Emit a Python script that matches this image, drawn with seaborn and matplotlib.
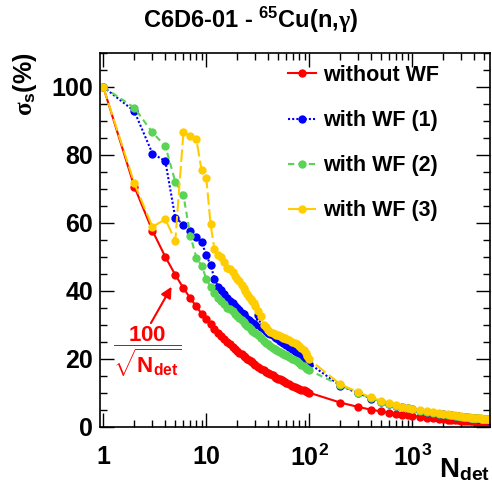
import matplotlib
matplotlib.use("Agg")
import matplotlib.pyplot as plt
import matplotlib.ticker as mticker
import seaborn as sns
import pandas as pd

# number of detectors (x) -- low part every point, high part sparse
n_lo = [1, 2, 3, 4, 5, 6, 7, 8, 9, 10, 11, 12, 13, 14, 15, 16, 17, 18, 19, 20,
        21, 22, 23, 24, 25, 26, 27, 28, 29, 30, 32, 34, 36, 38, 40, 42, 44, 46, 48, 50,
        52, 54, 56, 58, 60, 64, 68, 72, 76, 80, 84, 88, 92, 96, 100]
n_hi = [200, 300, 400, 500, 600, 700, 800, 900, 1000, 1200, 1400, 1600, 1800, 2000,
        2200, 2400, 2600, 2800, 3000, 3200, 3400, 3600, 3800, 4000, 4200, 4400, 4600,
        4800, 5000, 5200, 5400, 5600]

sig_nowf = [100, 70.7, 57.7, 50.0, 44.7, 40.8, 37.8, 35.4, 33.3, 31.6, 30.2, 28.9, 27.7, 26.7, 25.8,
            25.0, 24.3, 23.6, 22.9, 22.4, 21.8, 21.3, 20.9, 20.4, 20.0, 19.6, 19.2, 18.9, 18.6, 18.3,
            17.7, 17.1, 16.7, 16.2, 15.8, 15.4, 15.1, 14.7, 14.4, 14.1, 13.9, 13.6, 13.4, 13.1, 12.9,
            12.5, 12.1, 11.8, 11.5, 11.2, 10.9, 10.7, 10.4, 10.2, 10.0,
            7.1, 5.8, 5.0, 4.5, 4.1, 3.8, 3.5, 3.3, 3.2, 2.9, 2.7, 2.5, 2.4, 2.2, 2.1, 2.0, 2.0,
            1.9, 1.8, 1.8, 1.7, 1.7, 1.6, 1.6, 1.5, 1.5, 1.5, 1.4, 1.4, 1.4, 1.4, 1.3]
sig_wf1 = [100, 92.9, 80.4, 78.2, 61.5, 59.5, 57.6, 55.7, 54.4, 50.5, 47.6, 43.6, 41.2, 40.2, 39.2,
           37.8, 37.0, 36.3, 35.6, 34.9, 34.3, 33.6, 33.1, 32.4, 31.8, 31.3, 30.8, 30.4, 30.1, 29.9,
           33.0, 29.2, 28.7, 28.1, 27.7, 27.3, 26.9, 26.5, 26.1, 25.7, 25.3, 24.9, 24.6, 24.3, 24.0,
           23.4, 22.9, 22.4, 22.0, 21.4, 20.9, 20.4, 19.8, 19.2, 18.6,
           12.1, 9.8, 8.3, 7.3, 6.6, 6.1, 5.7, 5.4, 5.1, 4.6, 4.3, 4.0, 3.8, 3.6, 3.4, 3.3, 3.2,
           3.1, 3.0, 2.9, 2.8, 2.7, 2.6, 2.55, 2.5, 2.4, 2.35, 2.3, 2.25, 2.2, 2.15, 2.1]
sig_wf2 = [100, 93.9, 86.6, 82.6, 72.1, 68.1, 56.2, 49.8, 47.4, 43.6, 41.2, 39.5, 38.0, 37.0, 36.0,
           35.0, 34.5, 34.0, 33.3, 32.7, 32.0, 31.3, 30.8, 30.2, 29.7, 29.2, 28.7, 28.3, 27.9, 27.6,
           27.0, 26.2, 25.3, 24.6, 24.2, 23.8, 23.3, 22.9, 22.6, 22.3, 22.0, 21.7, 21.4, 21.2, 21.0,
           20.5, 20.0, 19.7, 19.4, 18.8, 18.3, 17.8, 17.4, 17.0, 16.6,
           12.2, 9.9, 8.4, 7.4, 6.7, 6.2, 5.8, 5.4, 5.1, 4.7, 4.35, 4.05, 3.85, 3.65, 3.45, 3.3, 3.2,
           3.1, 3.0, 2.9, 2.8, 2.7, 2.65, 2.6, 2.5, 2.45, 2.4, 2.35, 2.3, 2.25, 2.2, 2.15]
sig_wf3 = [100, 71.7, 58.8, 61.1, 54.7, 86.8, 85.5, 84.6, 75.5, 73.2, 59.6, 52.2, 50.5, 50.0, 48.5,
           46.7, 46.3, 45.6, 44.3, 43.6, 43.0, 41.8, 40.7, 39.8, 39.0, 38.3, 37.6, 37.0, 36.3, 35.6,
           34.0, 32.5, 29.8, 29.3, 28.5, 28.0, 27.7, 27.4, 27.1, 26.9, 26.6, 26.4, 26.2, 26.0, 25.8,
           25.5, 25.0, 24.6, 24.2, 23.7, 23.2, 22.6, 21.8, 20.8, 19.8,
           12.5, 10.1, 8.6, 7.6, 6.9, 6.4, 5.9, 5.6, 5.3, 4.8, 4.5, 4.2, 3.9, 3.7, 3.6, 3.4, 3.3,
           3.2, 3.1, 3.0, 2.9, 2.8, 2.7, 2.65, 2.6, 2.5, 2.45, 2.4, 2.35, 2.3, 2.25, 2.2]

labels = ["without WF", "with WF (1)", "with WF (2)", "with WF (3)"]
colors = ["#ff0000", "#0000ff", "#59d454", "#ffcc00"]
styles = ["-", (0, (1, 1)), (0, (3, 2)), (0, (6, 2))]
xtick_vals = [1, 10, 100, 1000]
xtick_labels = ["1", "10", r"$\mathrm{10^{2}}$", r"$\mathrm{10^{3}}$"]
ytick_vals = [0, 20, 40, 60, 80, 100]

plt.rcParams["font.family"] = ["Liberation Sans", "DejaVu Sans"]
plt.rcParams["font.weight"] = "bold"
plt.rcParams["mathtext.fontset"] = "custom"
plt.rcParams["mathtext.rm"] = "Liberation Sans:bold"
plt.rcParams["mathtext.bf"] = "Liberation Sans:bold"
plt.rcParams["mathtext.sf"] = "Liberation Sans:bold"
plt.rcParams["mathtext.it"] = "Liberation Serif"

n_all = n_lo + n_hi
df = pd.DataFrame({"N": n_all, labels[0]: sig_nowf, labels[1]: sig_wf1,
                   labels[2]: sig_wf2, labels[3]: sig_wf3})

fig = plt.figure(figsize=(4.92, 4.92), dpi=100)
ax = fig.add_axes([100 / 492, 65.3 / 492, 390 / 492, 373.7 / 492])

for lab, col, ls in zip(labels, colors, styles):
    sns.lineplot(data=df, x="N", y=lab, ax=ax, color=col, linestyle=ls, lw=1.5,
                 marker="o", markersize=6, markeredgewidth=0, label=lab,
                 estimator=None, errorbar=None)

ax.set_xscale("log")
ax.set_xlim(0.929, 5680)
ax.set_ylim(0, 110)
ax.xaxis.set_major_locator(mticker.FixedLocator(xtick_vals))
ax.xaxis.set_major_formatter(mticker.FixedFormatter(xtick_labels))
ax.xaxis.set_minor_locator(mticker.LogLocator(base=10, subs=range(2, 10)))
ax.xaxis.set_minor_formatter(mticker.NullFormatter())
ax.yaxis.set_major_locator(mticker.FixedLocator(ytick_vals))
ax.yaxis.set_minor_locator(mticker.MultipleLocator(5))
ax.tick_params(which="both", direction="in", top=True, right=True, width=1, labelsize=18)
ax.tick_params(which="major", length=10)
ax.tick_params(which="minor", length=5)
ax.tick_params(axis="x", pad=13)
ax.tick_params(axis="y", pad=5)
for s in ax.spines.values():
    s.set_linewidth(1.2)
ax.set_xlabel("")
ax.set_ylabel("")

leg = ax.legend(loc="upper left", bbox_to_anchor=(288 / 492, 1 - 65 / 492),
                bbox_transform=fig.transFigure, frameon=False, fontsize=15.5,
                handlelength=1.3, handletextpad=0.35, labelspacing=1.12, borderpad=0,
                borderaxespad=0, numpoints=1)

fig.text(250 / 492, 1 - 20 / 492, r"C6D6-01 - $\mathrm{^{65}}$Cu(n,$\gamma$)",
         ha="center", va="center", fontsize=17, fontweight="bold")
fig.text(25 / 492, 1 - 52 / 492, r"$\sigma_\mathrm{s}$(%)", rotation=90,
         ha="center", va="top", fontsize=18, fontweight="bold")
fig.text(490 / 492, 1 - 470 / 492, r"N$_\mathrm{det}$", ha="right", va="center",
         fontsize=20, fontweight="bold")

ax.annotate("", xy=(4.6, 41.2), xytext=(2.9, 30.5),
            arrowprops=dict(arrowstyle="-|>", color="red", lw=1.5, mutation_scale=16,
                            shrinkA=0, shrinkB=0))
ax.text(2.66, 22, r"$\dfrac{100}{\sqrt{\mathrm{N_{det}}}}$", color="red",
        ha="center", va="center", fontsize=16)

fig.savefig("out.png", dpi=100)
